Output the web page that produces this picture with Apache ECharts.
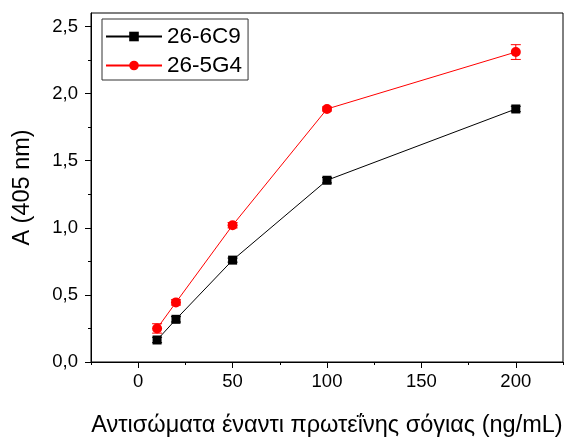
<!DOCTYPE html>
<html><head><meta charset="utf-8">
<script src="https://cdn.jsdelivr.net/npm/echarts@6/dist/echarts.min.js"></script>
<style>html,body{margin:0;padding:0;background:#fff}#c{width:565px;height:439px}</style>
</head><body><div id="c"></div>
<script>
const xValues = [10, 20, 50, 100, 200];
const series1Name = '26-6C9';
const series1 = [0.164, 0.318, 0.759, 1.354, 1.885];
const series1Err = [0.02, 0.02, 0.015, 0.02, 0.02];
const series2Name = '26-5G4';
const series2 = [0.25, 0.444, 1.019, 1.885, 2.309];
const series2Err = [0.035, 0.02, 0.02, 0.015, 0.055];
const xMajorTicks = [0, 50, 100, 150, 200];
const xMinorTicks = [-25, 25, 75, 125, 175, 225];
const yMajorTicks = [0, 0.5, 1.0, 1.5, 2.0, 2.5];
const yMinorTicks = [0.25, 0.75, 1.25, 1.75, 2.25];
const xTitle = 'Αντισώματα έναντι πρωτεΐνης σόγιας (ng/mL)';
const yTitle = 'A (405 nm)';

const FONT = '"Liberation Sans", Arial, sans-serif';
const chart = echarts.init(document.getElementById('c'));
function pairs(ys){ return xValues.map((x,i)=>[x, ys[i]]); }
function errData(ys, es){ return xValues.map((x,i)=>[x, ys[i]-es[i], ys[i]+es[i]]); }
function errSeries(ys, es, color){
  return {
    type:'custom', data: errData(ys, es), z: 1, silent:true,
    renderItem: function(params, api){
      const lo = api.coord([api.value(0), api.value(1)]);
      const hi = api.coord([api.value(0), api.value(2)]);
      const w = 5;
      const st = {stroke: color, lineWidth: 1};
      return {type:'group', children:[
        {type:'line', shape:{x1:lo[0],y1:lo[1],x2:hi[0],y2:hi[1]}, style:st},
        {type:'line', shape:{x1:lo[0]-w,y1:lo[1],x2:lo[0]+w,y2:lo[1]}, style:st},
        {type:'line', shape:{x1:hi[0]-w,y1:hi[1],x2:hi[0]+w,y2:hi[1]}, style:st}
      ]};
    }
  };
}
const axLine = {show:true, onZero:false, lineStyle:{color:'#000', width:1}};
chart.setOption({
  animation:false,
  backgroundColor:'#fff',
  grid:{left:91, top:13, right:2, bottom:77, containLabel:false, outerBoundsMode:'none',
        show:true, borderColor:'#000', borderWidth:1, backgroundColor:'transparent'},
  legend:{
    orient:'vertical', left:102, top:19, padding:[6,6,3,3],
    borderColor:'#333', borderWidth:1, itemWidth:56, itemHeight:12, itemGap:6,
    textStyle:{fontFamily:FONT, fontSize:22.5, color:'#000'},
    data:[series1Name, series2Name]
  },
  xAxis:[
    {type:'value', min:-25, max:225, position:'bottom',
     name:xTitle, nameLocation:'middle', nameGap:52,
     nameTextStyle:{fontFamily:FONT, fontSize:23.5, color:'#000'},
     axisLine:axLine, splitLine:{show:false},
     axisTick:{show:true, inside:false, length:6, customValues:xMajorTicks, lineStyle:{color:'#000'}},
     axisLabel:{show:true, customValues:xMajorTicks, margin:10, fontFamily:FONT, fontSize:18.5, color:'#000'}},
    {type:'value', min:-25, max:225, position:'bottom', gridIndex:0,
     axisLine:{show:false, onZero:false}, splitLine:{show:false},
     axisTick:{show:true, length:3, customValues:xMinorTicks, lineStyle:{color:'#000'}},
     axisLabel:{show:false}}
  ],
  yAxis:[
    {type:'value', min:0, max:2.6, position:'left',
     name:yTitle, nameLocation:'middle', nameGap:56,
     nameTextStyle:{fontFamily:FONT, fontSize:23.5, color:'#000'},
     axisLine:axLine, splitLine:{show:false},
     axisTick:{show:true, length:6, customValues:yMajorTicks, lineStyle:{color:'#000'}},
     axisLabel:{show:true, customValues:yMajorTicks, margin:13, fontFamily:FONT, fontSize:18.5, color:'#000',
       formatter:v=>v.toFixed(1).replace('.',',')}},
    {type:'value', min:0, max:2.6, position:'left',
     axisLine:{show:false, onZero:false}, splitLine:{show:false},
     axisTick:{show:true, length:3, customValues:yMinorTicks, lineStyle:{color:'#000'}},
     axisLabel:{show:false}}
  ],
  series:[
    errSeries(series1, series1Err, '#000'),
    errSeries(series2, series2Err, '#ff0000'),
    {name:series1Name, type:'line', data:pairs(series1), symbol:'rect', symbolSize:9,
     itemStyle:{color:'#000'}, lineStyle:{color:'#000', width:1}, z:3},
    {name:series2Name, type:'line', data:pairs(series2), symbol:'circle', symbolSize:10,
     itemStyle:{color:'#ff0000'}, lineStyle:{color:'#ff0000', width:1}, z:3}
  ]
});
</script></body></html>
